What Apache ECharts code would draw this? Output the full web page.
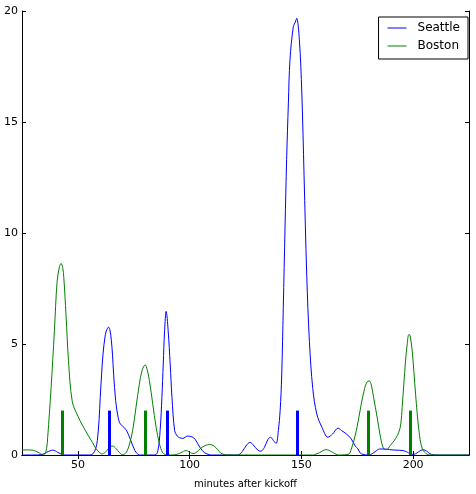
<!DOCTYPE html>
<html>
<head>
<meta charset="utf-8">
<script src="https://cdn.jsdelivr.net/npm/echarts@6/dist/echarts.min.js"></script>
<style>
  html, body { margin: 0; padding: 0; background: #fff; }
  #chart { width: 476px; height: 494px; }
</style>
</head>
<body>
<div id="chart"></div>
<script>
// minutes after kickoff for each sample
var seattleMinutes = [25, 30, 34, 36, 38.8, 41, 43, 45, 55, 56.7, 58, 58.7, 59.5, 60, 60.6, 61.2, 62.3, 63, 63.7, 64.3,
    65, 65.5, 66, 66.9, 68, 69, 71.5, 73.5, 75.5, 77, 78, 84.5, 85.8, 86.8, 87.6, 88.2, 88.8, 89.5, 90.4, 91.3,
    92.1, 93.3, 94.5, 95.5, 97, 99, 101, 102.5, 104.5, 106.7, 109, 110, 121.5, 123.5, 125.5, 127, 128.5, 130.5, 131.8, 133.5,
    135, 136.2, 137.5, 138.7, 139.7, 140.5, 141.2, 141.9, 142.7, 143.4, 144.2, 144.9, 146.4, 147.3, 147.9, 149.1, 150.2, 151.2, 152.4, 153.6,
    155.1, 156.9, 159.2, 161.9, 164, 166.4, 168, 170.1, 172.3, 174.1, 175.3, 176.4, 177.6, 179.5, 181, 183, 185, 187.5, 189.5, 192,
    195.5, 197.5, 199.3, 201, 202.5, 204.5, 206, 207.5, 209, 210, 225];
var seattleValues = [0, 0, 0.02, 0.12, 0.22, 0.12, 0.02, 0, 0, 0.05, 0.3, 0.65, 1.6, 2.6, 3.6, 4.5, 5.43, 5.65, 5.76, 5.65,
    5.14, 4.5, 3.64, 2.45, 1.7, 1.4, 1.15, 0.7, 0.2, 0.02, 0, 0, 0.2, 1.1, 2.6, 4.1, 5.6, 6.47, 5.6, 4.1,
    2.6, 1.1, 0.85, 0.78, 0.75, 0.85, 0.82, 0.7, 0.36, 0.1, 0.01, 0, 0, 0.15, 0.45, 0.57, 0.45, 0.22, 0.17, 0.35,
    0.7, 0.8, 0.65, 0.52, 1.1, 2.0, 3.6, 6.6, 10.3, 13.3, 15.9, 17.8, 19.3, 19.5, 19.67, 18.7, 16.3, 12.6, 8.1, 5.1,
    3.0, 1.85, 1.25, 0.8, 0.95, 1.21, 1.1, 0.95, 0.73, 0.4, 0.28, 0.08, 0.03, 0, 0.02, 0.15, 0.27, 0.27, 0.24, 0.22,
    0.2, 0.12, 0.03, 0.05, 0.15, 0.24, 0.18, 0.06, 0.01, 0, 0];

var bostonMinutes = [25, 27, 29.5, 31, 32.6, 34, 35, 36, 36.5, 38, 39.5, 40.7, 41.8, 42.5, 43.2, 43.7, 44.7, 45.8, 47.5, 50,
    52, 54.5, 56.6, 58, 59.6, 61, 63, 64.5, 65.6, 67, 68.5, 70, 71.5, 73, 74.5, 76, 77.5, 78.7, 80.1, 81,
    82, 83.5, 85, 86.5, 88, 89.5, 92, 94, 96, 98.5, 100, 101.5, 103, 105, 107, 109, 111, 112.5, 114, 116,
    118, 155, 156, 158, 161, 163.5, 165.5, 167, 171, 172.3, 174.6, 176.8, 178.3, 179.3, 180.3, 181.3, 182.3, 183.9, 185.4, 186.8,
    188, 189.8, 192.1, 193.6, 194.5, 195.1, 196.6, 197.3, 198.1, 198.6, 199.6, 201.1, 202.6, 204.1, 206.3, 208, 225];
var bostonValues = [0.22, 0.23, 0.22, 0.18, 0.1, 0.03, 0.03, 0.3, 0.8, 3.0, 5.6, 7.8, 8.5, 8.63, 8.45, 8.0, 6.3, 4.25, 2.4, 1.75,
    1.35, 0.9, 0.55, 0.3, 0.12, 0.05, 0.2, 0.37, 0.4, 0.3, 0.12, 0.02, 0.1, 0.45, 1.1, 2.15, 3.19, 3.8, 4.06, 3.85,
    3.35, 2.3, 1.25, 0.5, 0.1, 0.01, 0, 0.02, 0.1, 0.2, 0.13, 0.06, 0.12, 0.3, 0.43, 0.47, 0.4, 0.25, 0.08, 0.01,
    0, 0, 0.02, 0.1, 0.24, 0.15, 0.03, 0, 0.03, 0.25, 1.1, 2.3, 3.0, 3.28, 3.34, 3.15, 2.6, 1.7, 0.8, 0.28,
    0.24, 0.43, 0.73, 1.03, 1.4, 2.15, 4.24, 4.95, 5.43, 5.4, 4.68, 2.74, 1.1, 0.28, 0.03, 0, 0];

// scoring marks (minute), drawn up to goalHeight
var seattleGoals = [64, 90, 148];
var bostonGoals = [43, 80, 180, 198.5];
var goalHeight = 2;

var xTicks = [50, 100, 150, 200];
var yTicks = [0, 5, 10, 15, 20];

function pairs(xs, ys) {
    return xs.map(function(x, i) { return [x, ys[i]]; });
}

function goalLines(goals) {
    return goals.map(function(m) {
        return [{ coord: [m, 0] }, { coord: [m, goalHeight] }];
    });
}

var font = 'DejaVu Sans';
var chart = echarts.init(document.getElementById('chart'));

var xBase = {
    type: 'value',
    min: 25,
    max: 225,
    splitLine: { show: false },
    axisLine: { lineStyle: { color: '#000', width: 1 } },
    axisTick: { inside: true, length: 4, customValues: xTicks, lineStyle: { color: '#000' } }
};
var yBase = {
    type: 'value',
    min: 0,
    max: 20,
    interval: 5,
    splitLine: { show: false },
    axisLine: { show: true, lineStyle: { color: '#000', width: 1 } },
    axisTick: { inside: true, length: 4, lineStyle: { color: '#000' } }
};

option = {
    animation: false,
    textStyle: { fontFamily: font },
    grid: { left: 22, right: 7, top: 11, bottom: 36 },
    legend: {
        data: ['Seattle', 'Boston'],
        orient: 'vertical',
        right: 8,
        top: 17,
        backgroundColor: '#fff',
        borderColor: '#000',
        borderWidth: 1,
        borderRadius: 0,
        padding: [4, 8, 6, 9],
        itemGap: 4,
        itemWidth: 19,
        itemHeight: 1,
        icon: 'rect',
        textStyle: { fontFamily: font, fontSize: 12, color: '#000', lineHeight: 14, padding: [0, 0, 0, 6] }
    },
    xAxis: [
        Object.assign({}, xBase, {
            position: 'bottom',
            name: 'minutes after kickoff',
            nameLocation: 'middle',
            nameGap: 24,
            nameTextStyle: { fontFamily: font, fontSize: 10, color: '#000' },
            axisLabel: { customValues: xTicks, fontFamily: font, fontSize: 11, color: '#000', margin: 5 }
        }),
        Object.assign({}, xBase, { position: 'top', axisLabel: { show: false } })
    ],
    yAxis: [
        Object.assign({}, yBase, {
            position: 'left',
            axisLabel: { fontFamily: font, fontSize: 11, color: '#000', margin: 4 }
        }),
        Object.assign({}, yBase, { position: 'right', axisLabel: { show: false } })
    ],
    series: [
        {
            name: 'Seattle',
            type: 'line',
            data: pairs(seattleMinutes, seattleValues),
            showSymbol: false,
            smooth: 0.35,
            color: '#0000ff',
            lineStyle: { width: 1, color: '#0000ff' },
            markLine: {
                silent: true,
                symbol: 'none',
                label: { show: false },
                lineStyle: { type: 'solid', width: 3, color: '#0000ff' },
                data: goalLines(seattleGoals)
            }
        },
        {
            name: 'Boston',
            type: 'line',
            data: pairs(bostonMinutes, bostonValues),
            showSymbol: false,
            smooth: 0.35,
            color: '#008000',
            lineStyle: { width: 1, color: '#008000' },
            markLine: {
                silent: true,
                symbol: 'none',
                label: { show: false },
                lineStyle: { type: 'solid', width: 3, color: '#008000' },
                data: goalLines(bostonGoals)
            }
        }
    ]
};

chart.setOption(option);
</script>
</body>
</html>
